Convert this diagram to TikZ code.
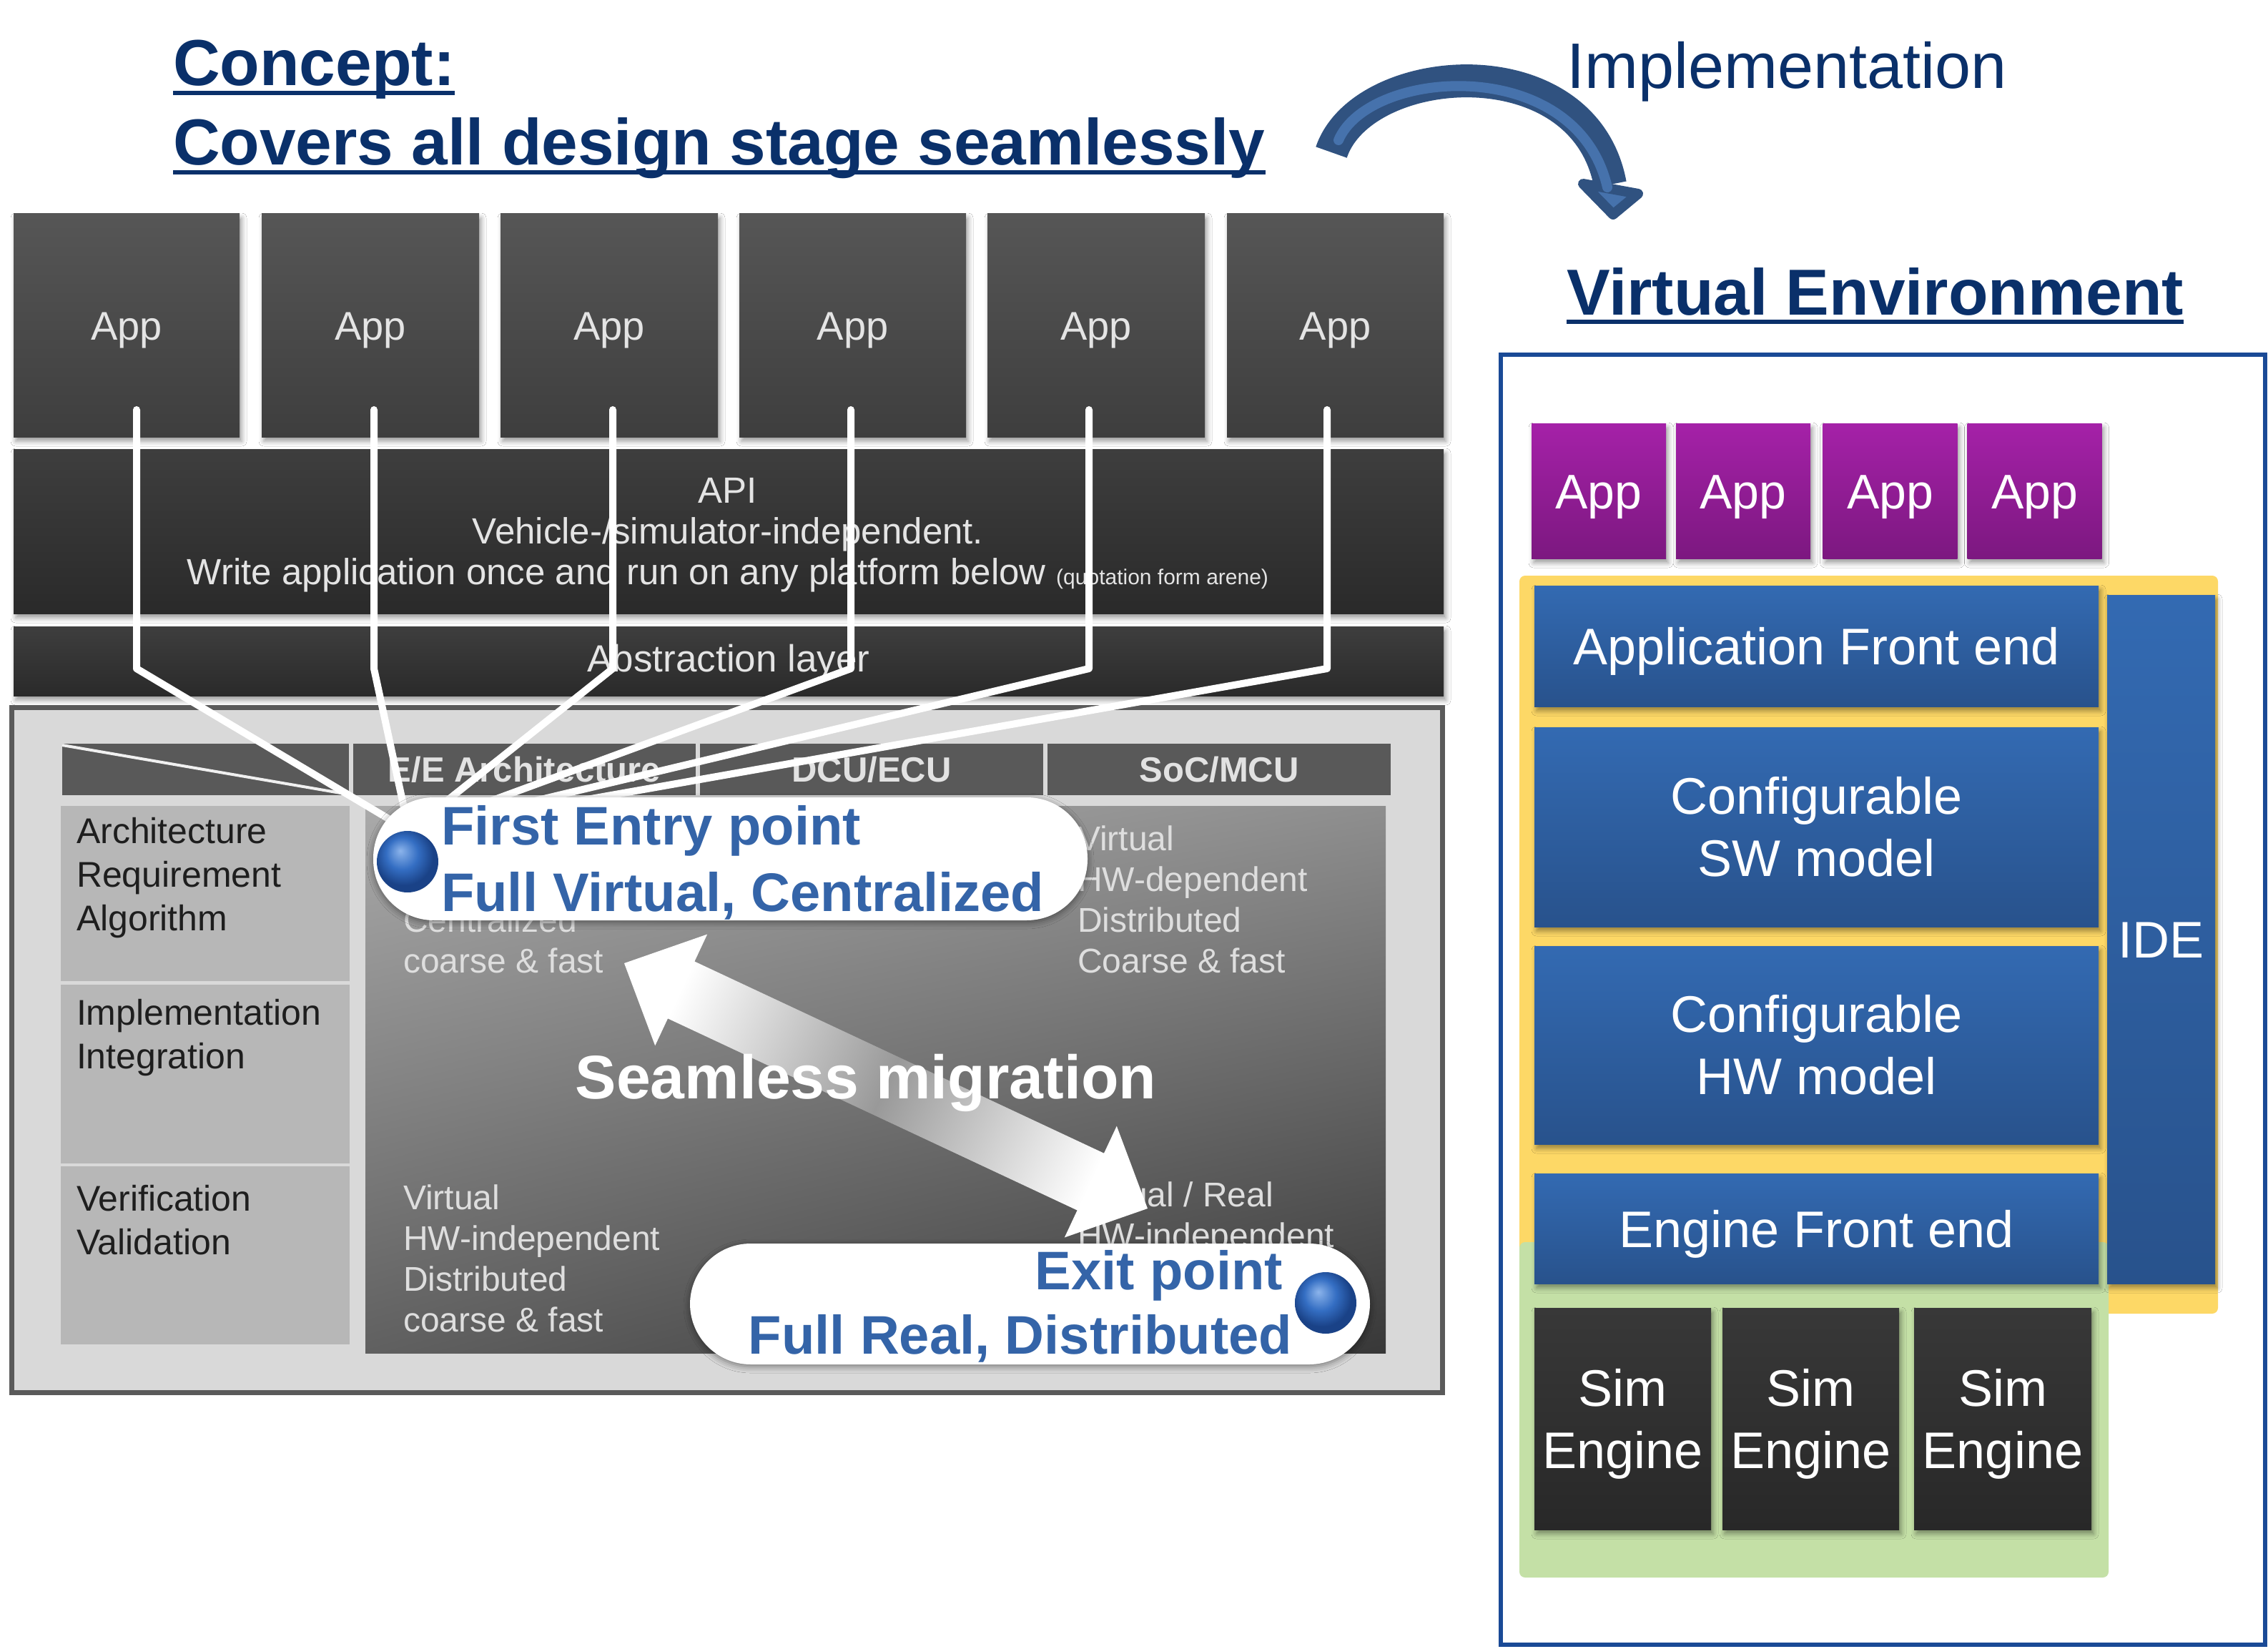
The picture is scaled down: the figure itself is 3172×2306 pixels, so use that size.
\documentclass[tikz,border=0pt]{standalone}
\usepackage{fontspec}
\setmainfont{Liberation Sans}
\usetikzlibrary{shadows.blur,calc,shadings}
\definecolor{navy}{RGB}{10,48,106}
\definecolor{bubC}{RGB}{52,100,168}
\definecolor{appT}{RGB}{86,86,86}
\definecolor{appB}{RGB}{62,62,62}
\definecolor{barT}{RGB}{62,62,62}
\definecolor{barB}{RGB}{42,42,42}
\definecolor{txtL}{RGB}{228,228,228}
\definecolor{frameF}{RGB}{217,217,217}
\definecolor{frameD}{RGB}{90,90,90}
\definecolor{hdrC}{RGB}{89,89,89}
\definecolor{hdrTxt}{RGB}{226,226,226}
\definecolor{rowC}{RGB}{183,183,183}
\definecolor{rowTxt}{RGB}{30,30,30}
\definecolor{cellTxt}{RGB}{222,222,222}
\definecolor{bodyUL}{RGB}{170,170,170}
\definecolor{bodyUR}{RGB}{142,142,142}
\definecolor{bodyLL}{RGB}{96,96,96}
\definecolor{bodyLR}{RGB}{56,56,56}
\definecolor{purT}{RGB}{165,33,168}
\definecolor{purB}{RGB}{124,24,128}
\definecolor{bluT}{RGB}{51,106,178}
\definecolor{bluB}{RGB}{40,82,140}
\definecolor{simT}{RGB}{56,56,56}
\definecolor{simB}{RGB}{40,40,40}
\definecolor{yelC}{RGB}{253,216,102}
\definecolor{grnC}{RGB}{196,224,166}
\definecolor{panelC}{RGB}{26,74,150}
\definecolor{arrD}{RGB}{48,82,128}
\definecolor{arrL}{RGB}{70,114,172}
\definecolor{ballL}{RGB}{140,180,235}
\definecolor{ballM}{RGB}{52,110,195}
\definecolor{ballD}{RGB}{26,66,135}
\pgfdeclareradialshading{bsph}{\pgfqpoint{-6bp}{9bp}}{color(0bp)=(ballL); color(13bp)=(ballM); color(24bp)=(ballD); color(25bp)=(ballD); color(50bp)=(ballD)}
\begin{document}
\begin{tikzpicture}[x=1pt,y=-1pt,
  every node/.style={inner sep=0pt, outer sep=0pt},
  shdw/.style={blur shadow={shadow xshift=3pt, shadow yshift=-6pt, shadow blur radius=7pt, shadow opacity=40}},
  darkapp/.style={top color=appT, bottom color=appB, minimum height=312, text=txtL, font=\fontsize{56}{60}\selectfont, text height=40, text depth=0, shdw},
  bar/.style={top color=barT, bottom color=barB, minimum width=2000, shdw},
  hdr/.style={fill=hdrC, minimum height=72, text=hdrTxt, font=\bfseries\fontsize{49}{55}\selectfont},
  rowlab/.style={fill=rowC, minimum width=404},
  rowtxt/.style={text=rowTxt, font=\fontsize{50}{61}\selectfont, align=left, anchor=west},
  celltxt/.style={text=cellTxt, font=\fontsize{48}{57}\selectfont, align=left, anchor=west},
  wline/.style={white, line width=10, line cap=round, line join=round},
  bubble/.style={fill=white, rounded corners=85, blur shadow={shadow xshift=0pt, shadow yshift=-3pt, shadow blur radius=9pt, shadow opacity=45}},
  bubtxt/.style={text=bubC, font=\bfseries\fontsize{76}{80}\selectfont},
  ball/.style={shading=bsph},
  papp/.style={top color=purT, bottom color=purB, minimum width=188, minimum height=189, text=white, font=\fontsize{68}{72}\selectfont, text height=49, text depth=0, shdw},
  bbox/.style={top color=bluT, bottom color=bluB, minimum width=789, text=white, font=\fontsize{72}{87}\selectfont, align=center, shdw},
  one/.style={text height=52, text depth=0},
  sim/.style={top color=simT, bottom color=simB, minimum width=247, minimum height=310, text=white, font=\fontsize{72}{87}\selectfont, align=center, text depth=0, shdw},
  ttl/.style={text=navy, anchor=base west},
]
\useasboundingbox (0,0) rectangle (3172,2306);
\fill[white] (0,0) rectangle (3172,2306);

% ---------- titles ----------
\node[ttl, font=\bfseries\fontsize{91}{100}\selectfont] (concept) at (242,120) {Concept:};
\node[ttl, font=\bfseries\fontsize{91}{100}\selectfont] (covers) at (242,231) {Covers all design stage seamlessly};
\draw[navy, line width=6] ([yshift=-10pt]concept.base west) -- ([yshift=-10pt]concept.base east);
\draw[navy, line width=6] ([yshift=-10pt]covers.base west) -- ([yshift=-10pt]covers.base east);
\node[ttl, font=\fontsize{90}{100}\selectfont] (impl) at (2191,124) {Implementation};
\node[ttl, font=\bfseries\fontsize{91}{100}\selectfont] (venv) at (2191,440) {Virtual Environment};
\draw[navy, line width=6] ([yshift=-10pt]venv.base west) -- ([yshift=-10pt]venv.base east);

% ---------- curved arrow ----------
\coordinate (ctail) at (1862,213);
\coordinate (chead) at (2252,258);
\draw[arrD, line width=46] (ctail) .. controls (1905,85) and (2215,60) .. (chead);
\draw[arrD, fill=arrL, line width=14, line join=round] (2214,257) -- (2291,271) -- (2256,300) -- cycle;
\draw[arrL, line width=14, line cap=round] (1872,196) .. controls (1915,95) and (2205,75) .. (2248,262);

% ---------- dark app boxes ----------
\node[darkapp, minimum width=316] (app1) at (177,455) {App};
\node[darkapp, minimum width=304] (app2) at (518,455) {App};
\node[darkapp, minimum width=304] (app3) at (852,455) {App};
\node[darkapp, minimum width=317] (app4) at (1192.5,455) {App};
\node[darkapp, minimum width=304] (app5) at (1533,455) {App};
\node[darkapp, minimum width=303] (app6) at (1867.5,455) {App};

% ---------- API and abstraction layer ----------
\node[bar, minimum height=230] (api) at (1019,743) {};
\node[align=center, text=txtL, font=\fontsize{51}{57}\selectfont] (apitxt) at (1018,748)
  {API\\Vehicle-/simulator-independent.\\Write application once and run on any platform below {\fontsize{30}{32}\selectfont (quotation form arene)}};
\node[bar, minimum height=97] (abst) at (1019,924.5) {};
\node[text=txtL, font=\fontsize{53}{57}\selectfont] (absttxt) at (1019,926) {Abstraction layer};

% ---------- matrix ----------
\node[fill=frameF, draw=frameD, line width=7, minimum width=2001, minimum height=958] (frame) at (1016.5,1468) {};
\fill[hdrC] (87,1040) rectangle (488,1112);
\draw[white!88!gray, line width=4] (87,1042) -- (488,1111);
\node[hdr, minimum width=479] (hEE) at (733.5,1076) {E/E Architecture};
\node[hdr, minimum width=480] (hDCU) at (1219,1076) {DCU/ECU};
\node[hdr, minimum width=480] (hSOC) at (1705,1076) {SoC/MCU};
\node[rowlab, minimum height=245] (r1) at (287,1249.5) {};
\node[rowlab, minimum height=250] (r2) at (287,1502) {};
\node[rowlab, minimum height=249] (r3) at (287,1755.5) {};
\node[rowtxt] (r1t) at (107,1228) {Architecture\\Requirement\\Algorithm};
\node[rowtxt] (r2t) at (107,1451) {Implementation\\Integration};
\node[rowtxt] (r3t) at (107,1706) {Verification\\Validation};
\shade[upper left=bodyUL, upper right=bodyUR, lower left=bodyLL, lower right=bodyLR] (511,1127) rectangle (1938,1892);
\node[celltxt] (c11) at (564,1315) {Centralized\\coarse \& fast};
\node[celltxt] (c12) at (1507,1258) {Virtual\\HW-dependent\\Distributed\\Coarse \& fast};
\node[celltxt] (c21) at (564,1760) {Virtual\\HW-independent\\Distributed\\coarse \& fast};
\node[celltxt] (c22) at (1507,1704) {Virtual / Real\\HW-independent};

% ---------- white connectors ----------
\coordinate (P) at (572,1162);
\draw[wline] ([xshift=14pt,yshift=38pt]app1.south) -- ++(0,362) -- (P);
\draw[wline] ([xshift=5pt,yshift=38pt]app2.south) -- ++(0,362) -- (P);
\draw[wline] ([xshift=5pt,yshift=38pt]app3.south) -- ++(0,362) -- (P);
\draw[wline] ([xshift=-2.5pt,yshift=38pt]app4.south) -- ++(0,362) -- (P);
\draw[wline] ([xshift=-10pt,yshift=38pt]app5.south) -- ++(0,362) -- (P);
\draw[wline] ([xshift=-11.5pt,yshift=38pt]app6.south) -- ++(0,362) -- (P);

% ---------- seamless migration arrow ----------
\shade[top color=white, bottom color=white, middle color=black!40, shading angle=65]
  (873,1347) -- (989.2,1306.5) -- (971.4,1344.5) -- (1544.0,1612.7) -- (1561.8,1574.7)
  -- (1605,1690) -- (1488.8,1730.5) -- (1506.6,1692.5) -- (934.0,1424.3) -- (916.2,1462.3) -- cycle;
\node[anchor=base, text=white, font=\bfseries\fontsize{86}{90}\selectfont] (seam) at (1211,1536) {Seamless migration};

% ---------- entry / exit bubbles ----------
\node[bubble, minimum width=999, minimum height=172] (entry) at (1021.5,1201) {};
\node[bubtxt, anchor=base west] (e1) at (617,1181) {First Entry point};
\node[bubtxt, anchor=base west] (e2) at (617,1274) {Full Virtual, Centralized};
\shade[ball] (570,1205) circle[radius=43];
\node[bubble, minimum width=951, minimum height=169] (exitb) at (1440.5,1823.5) {};
\node[bubtxt, anchor=base east] (x1) at (1794,1803) {Exit point};
\node[bubtxt, anchor=base east] (x2) at (1807,1893) {Full Real, Distributed};
\shade[ball] (1854,1822) circle[radius=43];

% ---------- right panel ----------
\draw[panelC, fill=white, line width=6] (2099,496) rectangle (3168,2300);
\node[papp] (pa1) at (2236,686.5) {App};
\node[papp] (pa2) at (2438,686.5) {App};
\node[papp] (pa3) at (2643.5,686.5) {App};
\node[papp] (pa4) at (2845.5,686.5) {App};
\fill[yelC, rounded corners=8] (2125,805) rectangle (3102,1837);
\fill[grnC, rounded corners=8] (2125,1737) rectangle (2949,2206);
\node[bbox, one, minimum height=169] (afe) at (2540.5,903.5) {Application Front end};
\node[bbox, minimum height=279] (swm) at (2540.5,1156.5) {Configurable\\SW model};
\node[bbox, minimum height=277] (hwm) at (2540.5,1461.5) {Configurable\\HW model};
\node[bbox, one, minimum height=154] (efe) at (2540.5,1718) {Engine Front end};
\node[bbox, one, minimum width=151, minimum height=963] (ide) at (3022.5,1313.5) {IDE};
\node[sim] (s1) at (2269.5,1984) {Sim\\Engine};
\node[sim] (s2) at (2532.5,1984) {Sim\\Engine};
\node[sim, minimum width=248] (s3) at (2801,1984) {Sim\\Engine};
\end{tikzpicture}
\end{document}
